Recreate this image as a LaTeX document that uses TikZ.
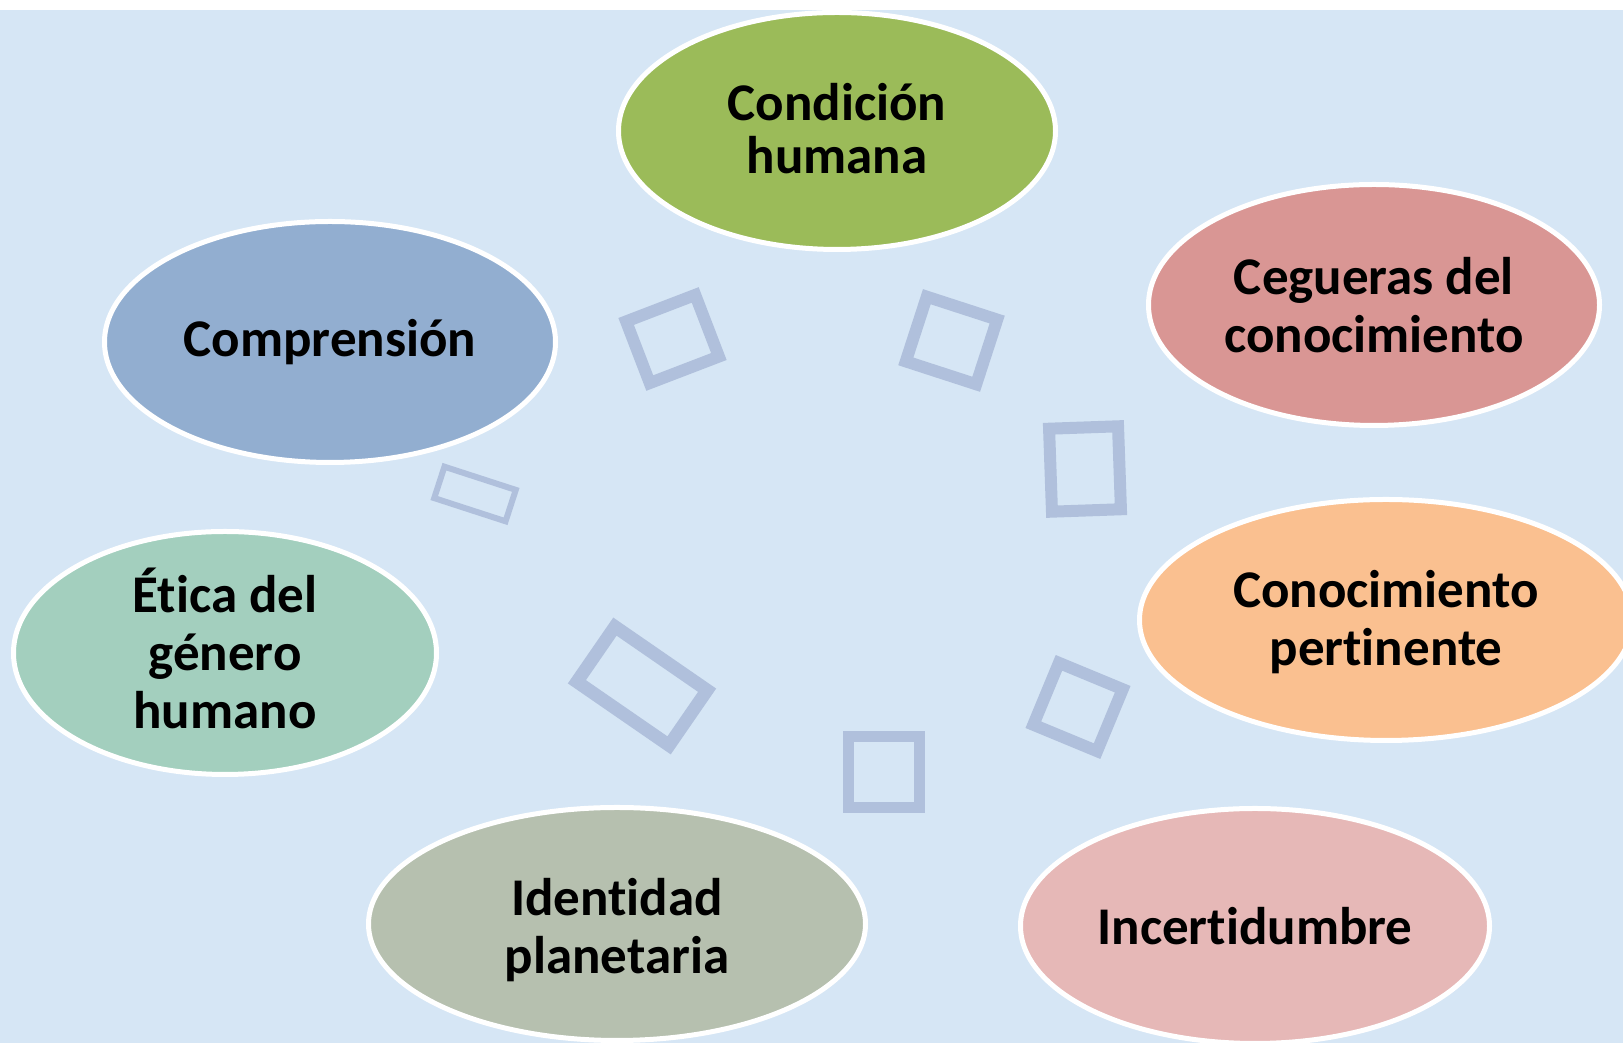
\documentclass[tikz,border=0pt]{standalone}
\usepackage{fontspec}
\setmainfont{Carlito}[Ligatures=NoCommon]
\usetikzlibrary{shapes.geometric}
\definecolor{bgc}{RGB}{214,230,245}
\definecolor{sqc}{RGB}{176,192,220}
\definecolor{condc}{RGB}{155,187,89}
\definecolor{cegc}{RGB}{217,150,148}
\definecolor{conpc}{RGB}{250,192,144}
\definecolor{incc}{RGB}{230,184,183}
\definecolor{idenc}{RGB}{182,192,175}
\definecolor{eticac}{RGB}{163,207,190}
\definecolor{compc}{RGB}{146,174,208}
\begin{document}
\begin{tikzpicture}[x=1pt,y=1pt,
  bubble/.style={ellipse, draw=white, line width=5pt, inner sep=0pt},
  lbl/.style={font=\fontsize{53}{58}\selectfont\bfseries, align=center, text=black, inner sep=0pt},
  sq/.style={rectangle, draw=sqc, line width=12pt, inner sep=0pt}]
\useasboundingbox (0,0) rectangle (1623,1043);
\begin{scope}
\clip (0,0) rectangle (1623,1043);
\fill[white] (0,0) rectangle (1623,1043);
\fill[bgc] (0,0) rectangle (1623,1033);
% squares
\node[sq, minimum width=74, minimum height=66, rotate=21] (sqA) at (672.5,704) {};
\node[sq, minimum width=74, minimum height=68, rotate=-18] (sqB) at (951.5,702.5) {};
\node[sq, minimum width=69, minimum height=83, rotate=2] (sqC) at (1085,574) {};
\node[sq, minimum width=69, minimum height=67, rotate=-22.5] (sqD) at (1078,336) {};
\node[sq, line width=11pt, minimum width=71, minimum height=71] (sqE) at (883.7,271) {};
\node[sq, line width=6pt, minimum width=75, minimum height=33, rotate=-18] (sqF) at (475,549) {};
\node[sq, line width=13pt, minimum width=112, minimum height=67, rotate=-34.6] (sqG) at (642,357) {};
% ellipses
\node[bubble, fill=condc, minimum width=437, minimum height=237] (cond) at (837,912) {};
\node[bubble, fill=cegc, minimum width=451, minimum height=241] (ceg) at (1374,738) {};
\node[bubble, fill=conpc, minimum width=493, minimum height=241] (conp) at (1386,423) {};
\node[bubble, fill=incc, minimum width=469, minimum height=235] (inc) at (1255,117) {};
\node[bubble, fill=idenc, minimum width=497, minimum height=233] (iden) at (617,119) {};
\node[bubble, fill=eticac, minimum width=423, minimum height=243] (etica) at (225,390) {};
\node[bubble, fill=compc, minimum width=451, minimum height=241] (comp) at (330,701) {};
% labels
\node[lbl, font=\fontsize{53}{53}\selectfont\bfseries] (condT) at ([yshift=2pt]cond.center) {Condición\\humana};
\node[lbl] (cegT) at (ceg.center) {Cegueras del\\conocimiento};
\node[lbl] (conpT) at ([yshift=-2pt]conp.center) {Conocimiento\\pertinente};
\node[lbl] (incT) at (inc.center) {Incertidumbre};
\node[lbl] (idenT) at ([yshift=-6pt]iden.center) {Identidad\\planetaria};
\node[lbl] (eticaT) at ([yshift=5pt]etica.center) {Ética del\\género\\humano};
\node[lbl] (compT) at (comp.center) {Comprensión};
\end{scope}
\end{tikzpicture}
\end{document}
